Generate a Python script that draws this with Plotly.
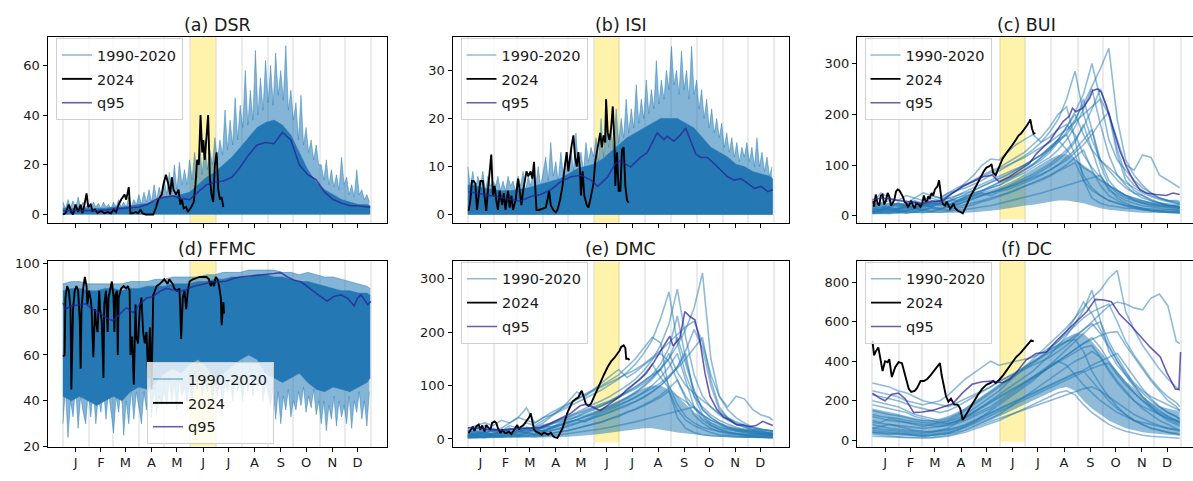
import plotly.graph_objects as go

# ---------------- calendar data ----------------
month_letters = ["J", "F", "M", "A", "M", "J", "J", "A", "S", "O", "N", "D"]
month_mid_days = [15, 45, 74, 105, 135, 166, 196, 227, 258, 288, 319, 349]
month_start_days = [0, 31, 59, 90, 120, 151, 181, 212, 243, 273, 304, 334, 365]
highlight_days = [151, 181]          # June highlighted
days3 = list(range(0, 364, 3))       # day-of-year grid for envelopes
days10 = list(range(0, 361, 10)) + [364]

# ---------------- (a) DSR ----------------
dsr_envelope = [5, 2.5, 6, 3, 5.5, 2.5, 7, 3, 5, 2.5, 4.5,
                2.5, 5, 3, 4.5, 2.5, 5, 3, 4, 2.5,
                5, 3, 6, 3, 5, 3, 7, 3, 6, 4, 8,
                4, 9, 5, 10, 5, 12, 6, 11, 7,
                14, 8, 17, 9, 20, 10, 21, 12, 18, 12, 22,
                14, 25, 15, 28, 16, 30, 18, 26, 20, 31,
                22, 30, 24, 42, 26, 38, 28, 47, 30, 44,
                35, 58, 36, 50, 38, 66, 40, 55, 42, 62, 45,
                60, 44, 65, 48, 58, 46, 68, 42, 50, 38,
                45, 30, 48, 28, 35, 25, 30, 22, 28, 20,
                20, 14, 22, 12, 18, 11, 16, 10, 23, 12,
                15, 8, 12, 7, 18, 8, 10, 6, 8, 5]
dsr_core = [2.5, 2.5, 2.5, 2.5, 2.5, 2.5, 3, 3, 3.5, 4, 4.5, 5.5, 7, 7.5, 8, 9, 12, 15, 17, 20,
            23, 27, 31, 35, 37, 38, 36, 32, 25, 18, 13, 10, 8, 6, 5, 4, 4, 3.5]
dsr_q95 = [1.5, 1.6, 1.8, 1.6, 1.5, 1.8, 2.0, 2.2, 2.5, 3.0, 4, 6, 7, 7.5, 6.5, 6, 9, 12, 13, 13.5,
           15, 19, 24, 28, 29, 28.5, 33, 30, 20, 16, 14, 9, 6, 4.5, 3.5, 3.5, 3, 3]
dsr_2024_days = [0, 3, 7, 10, 12, 15, 18, 21, 23, 25, 28, 30, 33, 35, 38, 41, 45, 49, 53, 57,
                 60, 63, 66, 69, 73, 75, 78, 80, 83, 86, 89, 92, 94, 98, 102, 107, 110, 113, 117, 119,
                 122, 125, 127, 129, 131, 134, 137, 139, 141, 143, 146, 148, 152, 155, 157, 159, 161, 163, 165, 166,
                 168, 170, 172, 174, 176, 178, 180, 182, 184, 186, 188, 190]
dsr_2024 = [0, 0.5, 4, 1, 0, 4, 1, 4, 0.5, 3, 8.5, 3, 4, 1.5, 2, 0.5, 1.5, 0.5, 1, 0.5,
            2, 1, 4, 6, 8, 6, 11, 0.5, 0.5, 1, 0.5, 2, 0.5, 0, 0, 0, 2.5, 6, 8, 12,
            16, 12, 8, 15, 10, 8, 10, 4, 6, 2.5, 3, 1, 3, 5, 12, 22, 20, 40, 25, 30,
            22, 30, 40, 15, 8, 5, 20, 25, 10, 6, 7, 3]

# ---------------- (b) ISI ----------------
isi_envelope = [10, 6, 9, 5, 8, 6, 9, 5, 8, 6, 7,
                6, 8, 5, 7, 5, 8, 6, 7, 5,
                8, 6, 9, 5, 8, 6, 9, 6, 10, 6, 9,
                12, 7, 15, 8, 11, 7, 13, 8, 12,
                10, 14, 9, 17, 10, 13, 9, 15, 11, 14, 12,
                16, 11, 20, 12, 24, 14, 18, 13, 22, 15,
                20, 16, 24, 17, 22, 18, 27, 19, 24, 20,
                28, 21, 26, 22, 32, 23, 28, 24, 30, 26, 35,
                27, 30, 25, 34, 26, 30, 24, 35, 25, 28,
                22, 26, 20, 24, 18, 22, 17, 20, 16, 19,
                14, 17, 13, 16, 12, 15, 11, 14, 12, 15,
                11, 14, 10, 16, 10, 13, 9, 12, 8, 10]
isi_core = [6.2, 6, 5.5, 5.2, 5, 5, 5.2, 5.5, 6, 6.5, 7, 7.5, 8.5, 9.5, 10, 10.5, 11.5, 13, 14.5, 16,
            17, 18, 19, 20, 20, 20, 19, 18, 16, 14, 13, 12, 10.5, 10, 9, 8.5, 8, 7.5]
isi_q95_days = [1, 11, 23, 35, 51, 63, 75, 87, 99, 111, 123, 135, 147, 155, 167, 176, 182, 194, 206, 214,
                226, 234, 238, 246, 254, 260, 266, 272, 278, 286, 294, 302, 310, 318, 326, 334, 342, 350, 358, 364]
isi_q95 = [4.8, 4.5, 4.2, 3.8, 3.2, 2.8, 3.8, 4.2, 5.2, 6.9, 7.9, 8.2, 7.2, 5.9, 7.9, 10.6, 11.2, 9.9, 11.9, 12.9,
           17, 15.6, 16.3, 15.3, 16.6, 18, 15.3, 12.6, 11.9, 11.9, 10.6, 9.2, 7.9, 7.2, 7.5, 6.5, 5.5, 5.9, 4.8, 5.2]
isi_2024_days = [1, 3, 5, 7, 9, 11, 13, 15, 18, 21, 22, 24, 26, 28, 30, 32, 34, 36, 38, 41,
                 43, 45, 48, 50, 52, 54, 57, 60, 62, 64, 66, 68, 70, 72, 75, 77, 79, 81, 82, 85,
                 89, 93, 95, 97, 99, 102, 105, 107, 110, 113, 115, 118, 120, 122, 124, 126, 128, 130, 132, 134,
                 135, 137, 139, 142, 144, 146, 148, 150, 152, 154, 156, 158, 160, 162, 164, 165, 167, 169, 171, 173,
                 175, 176, 178, 180, 182, 184, 186, 188, 190, 192]
isi_2024 = [0.8, 3, 7, 7, 6.5, 1, 4, 7, 7, 2, 0.8, 5, 9, 12.5, 4, 6, 3, 1, 5, 2,
            4.5, 1, 5, 1.5, 4, 1, 3, 7.5, 5, 2, 5, 7, 9, 8, 9, 7.5, 11, 4, 1, 1,
            1.2, 1.5, 3, 5, 2, 1, 0.5, 1, 3, 6, 9, 13, 9, 12, 14.5, 16.5, 12, 10, 13, 9,
            4, 9, 4, 2, 1.5, 3, 5, 6.5, 11, 13, 15, 17, 14, 16.5, 15, 24, 17, 15.5, 18, 22.5,
            15, 6, 13, 5, 5, 13.5, 14, 6, 3, 2.5]

# ---------------- (c) BUI ----------------
bui_years = [
    [15, 12, 18, 22, 15, 20, 25, 20, 30, 28, 35, 40, 45, 50, 55, 60, 70, 80, 90, 100,
     110, 125, 145, 165, 190, 220, 255, 290, 330, 190, 110, 80, 60, 45, 35, 30, 25, 25],
    [10, 8, 12, 10, 15, 12, 18, 25, 20, 30, 40, 45, 50, 58, 65, 72, 80, 90, 100, 110,
     120, 135, 150, 175, 205, 240, 300, 230, 150, 110, 90, 70, 55, 45, 35, 30, 28, 25],
    [20, 25, 30, 20, 25, 35, 30, 40, 35, 45, 50, 55, 62, 70, 80, 88, 98, 108, 118, 130,
     145, 165, 190, 230, 285, 200, 150, 110, 90, 70, 55, 45, 40, 30, 25, 20, 20, 18],
    [25, 45, 35, 30, 40, 35, 45, 40, 35, 45, 55, 62, 70, 78, 85, 92, 100, 108, 115, 125,
     135, 145, 158, 170, 185, 200, 215, 230, 200, 150, 100, 90, 120, 115, 80, 70, 60, 55],
    [8, 10, 8, 12, 10, 15, 12, 18, 15, 20, 25, 32, 40, 48, 55, 60, 68, 76, 85, 95,
     105, 115, 130, 150, 175, 210, 250, 180, 120, 80, 60, 45, 35, 30, 25, 20, 18, 15],
    [12, 15, 20, 25, 20, 30, 25, 35, 30, 40, 50, 60, 70, 80, 88, 95, 105, 115, 125, 140,
     155, 175, 200, 215, 150, 70, 35, 25, 20, 18, 15, 15, 12, 10, 10, 8, 8, 8],
    [5, 8, 6, 10, 8, 12, 10, 15, 12, 18, 22, 28, 35, 40, 45, 50, 56, 62, 70, 78,
     88, 98, 110, 125, 145, 180, 130, 80, 50, 40, 30, 25, 20, 18, 15, 12, 12, 10],
    [10, 12, 15, 12, 18, 15, 20, 18, 25, 22, 30, 38, 45, 50, 58, 65, 72, 80, 90, 100,
     115, 130, 150, 130, 110, 95, 85, 70, 60, 50, 40, 35, 30, 25, 22, 20, 18, 18],
    [15, 18, 12, 15, 20, 18, 15, 22, 25, 20, 28, 33, 38, 42, 46, 50, 56, 62, 68, 75,
     82, 90, 100, 110, 125, 140, 160, 185, 205, 130, 80, 60, 50, 40, 35, 30, 30, 28],
    [6, 5, 8, 6, 10, 8, 12, 10, 14, 12, 18, 22, 25, 30, 35, 40, 45, 52, 58, 65,
     70, 78, 88, 96, 105, 70, 50, 40, 30, 25, 20, 15, 12, 10, 8, 8, 6, 6],
    [18, 22, 15, 25, 20, 28, 22, 30, 25, 35, 30, 38, 42, 45, 40, 48, 52, 58, 65, 72,
     80, 90, 100, 115, 130, 150, 170, 100, 60, 45, 35, 30, 25, 22, 20, 18, 16, 15],
    [8, 12, 10, 15, 12, 18, 20, 25, 30, 40, 50, 65, 80, 100, 112, 110, 125, 140, 150, 160,
     145, 155, 170, 180, 160, 120, 95, 75, 60, 50, 40, 30, 25, 20, 18, 15, 12, 12],
    [5, 6, 5, 8, 6, 8, 10, 8, 12, 10, 15, 18, 22, 28, 32, 38, 44, 50, 58, 65,
     72, 80, 90, 100, 115, 130, 90, 60, 40, 30, 22, 18, 15, 12, 10, 8, 8, 6],
    [12, 10, 15, 12, 18, 15, 20, 25, 22, 28, 35, 42, 50, 58, 66, 74, 82, 90, 100, 110,
     120, 132, 145, 160, 185, 230, 170, 110, 70, 50, 40, 32, 28, 24, 20, 18, 16, 15],
    [20, 15, 25, 18, 22, 28, 20, 25, 30, 35, 40, 48, 55, 62, 70, 78, 85, 92, 100, 110,
     120, 135, 150, 160, 120, 80, 55, 40, 30, 25, 20, 18, 15, 14, 12, 12, 10, 10],
    [8, 10, 12, 8, 10, 14, 12, 16, 14, 18, 22, 28, 34, 40, 46, 52, 58, 66, 74, 82,
     92, 102, 115, 130, 150, 175, 210, 250, 200, 120, 70, 50, 40, 32, 26, 22, 18, 16],
    [4, 5, 4, 6, 5, 7, 6, 8, 7, 9, 10, 12, 15, 18, 20, 24, 28, 32, 36, 40,
     45, 50, 55, 60, 65, 70, 75, 80, 55, 35, 25, 18, 14, 10, 8, 6, 5, 5],
    [15, 12, 18, 14, 20, 16, 22, 18, 25, 20, 28, 35, 42, 50, 58, 66, 74, 82, 92, 102,
     115, 130, 150, 175, 200, 160, 130, 110, 95, 80, 65, 55, 45, 38, 32, 28, 25, 22],
]
bui_dense_lo = [5, 5, 5, 5, 5, 5, 5, 5, 5, 5, 5, 6, 7, 8, 10, 12, 15, 18, 20, 22,
                25, 28, 30, 30, 28, 25, 20, 15, 12, 10, 8, 7, 6, 6, 5, 5, 5, 5]
bui_dense_hi = [25, 27, 24, 26, 25, 27, 25, 28, 26, 30, 32, 37, 42, 47, 52, 57, 64, 72, 82, 92,
                102, 112, 120, 122, 112, 100, 88, 72, 60, 50, 42, 36, 31, 28, 26, 25, 24, 24]
bui_q95_days = [0, 12, 24, 36, 47, 59, 71, 83, 95, 107, 119, 131, 142, 150, 162, 174, 186, 194, 202, 210,
                218, 226, 233, 237, 241, 249, 257, 261, 267, 271, 277, 285, 293, 301, 309, 317, 324, 336, 348, 356, 364]
bui_q95 = [32, 35, 32, 29, 26, 24, 29, 29, 45, 58, 67, 77, 80, 67, 77, 90, 103, 122, 135, 147,
           167, 186, 196, 212, 205, 212, 231, 247, 250, 244, 218, 173, 128, 96, 70, 51, 45, 42, 40, 45, 42]
bui_2024_days = [1, 2, 4, 6, 8, 10, 12, 14, 16, 18, 20, 22, 24, 26, 28, 30, 32, 35, 36, 38,
                 40, 42, 44, 46, 48, 50, 52, 55, 57, 59, 61, 63, 65, 66, 68, 70, 72, 74, 77, 79,
                 81, 82, 84, 86, 88, 90, 92, 94, 96, 98, 101, 104, 107, 110, 113, 116, 120, 123, 126, 129,
                 132, 135, 139, 141, 143, 146, 148, 151, 154, 158, 162, 166, 170, 173, 176, 180, 183, 186, 187, 189,
                 191, 193]
bui_2024 = [30, 18, 42, 25, 20, 40, 42, 22, 30, 45, 38, 20, 25, 32, 48, 52, 50, 42, 38, 28,
            25, 18, 22, 30, 20, 15, 25, 22, 18, 25, 40, 28, 30, 38, 35, 45, 40, 52, 58, 70,
            45, 30, 22, 20, 28, 22, 14, 18, 24, 15, 10, 8, 5, 15, 28, 38, 50, 60, 70, 80,
            88, 95, 98, 102, 85, 80, 88, 100, 112, 122, 130, 140, 150, 158, 162, 170, 178, 186, 190, 172,
            162, 163]

# ---------------- (d) FFMC ----------------
ffmc_envelope_lo = [30, 45, 24, 40, 33, 46, 28, 42, 35, 30, 44,
                    33, 45, 30, 42, 35, 46, 32, 44, 34,
                    26, 42, 35, 46, 25, 40, 30, 45, 32, 44, 36,
                    30, 44, 36, 48, 33, 46, 35, 42, 38,
                    45, 38, 50, 40, 48, 36, 50, 42, 46, 40, 48,
                    40, 52, 45, 55, 42, 50, 44, 53, 40, 48,
                    42, 50, 38, 48, 44, 52, 40, 50, 45, 48,
                    40, 52, 44, 55, 42, 50, 46, 53, 40, 48, 44,
                    38, 46, 32, 44, 30, 42, 36, 45, 33, 40,
                    36, 44, 38, 46, 35, 42, 37, 45, 34, 40,
                    30, 40, 27, 38, 32, 42, 29, 40, 33, 38,
                    30, 42, 28, 40, 35, 44, 32, 40, 29, 44]
ffmc_envelope_hi = [91, 92, 92, 91, 91, 91, 91, 91, 92, 92, 92, 93, 93, 94, 94, 94, 94, 95, 95, 96,
                    96, 96, 97, 97, 97, 97, 96, 96, 95, 96, 95, 94, 94, 93, 92, 91, 90, 89]
ffmc_core_lo = [42, 40, 42, 40, 38, 40, 42, 40, 44, 46, 45, 48, 52, 54, 52, 56, 58, 55, 50, 52,
                55, 58, 60, 58, 52, 50, 48, 50, 52, 48, 45, 44, 46, 45, 44, 46, 48, 50]
ffmc_core_hi = [88, 89, 89, 88, 88, 89, 89, 88, 89, 89, 90, 90, 90, 91, 91, 91, 92, 92, 93, 93,
                94, 94, 94, 95, 95, 94, 94, 93, 92, 92, 91, 90, 89, 88, 88, 87, 87, 86]
ffmc_q95_days = [0, 3, 9, 19, 27, 35, 43, 51, 59, 67, 75, 83, 91, 99, 107, 115, 122, 130, 138, 146,
                 154, 162, 170, 178, 186, 194, 202, 210, 218, 226, 234, 242, 250, 258, 266, 274, 282, 289, 297, 305,
                 313, 321, 329, 337, 345, 349, 353, 357, 361, 365]
ffmc_q95 = [82.7, 79.9, 81.3, 82, 82.3, 80, 78.4, 76.3, 74.9, 77.7, 80.6, 78.4, 82, 84.8, 85.5, 87.7, 89, 88.4, 87.7, 88.4,
            89.8, 90.5, 91.2, 91.9, 91.9, 92.2, 93.3, 94, 94.3, 94.5, 94.8, 95.2, 95.5, 95.9, 94, 92.6, 91.9, 89.8, 87.7, 85.5,
            83.4, 85.5, 86.2, 84.8, 81.3, 84.8, 86.2, 84.1, 82, 83.4]
ffmc_2024_days = [0, 2, 3, 5, 7, 9, 10, 12, 14, 16, 18, 20, 21, 22, 24, 26, 28, 29, 31, 33,
                  34, 36, 38, 39, 41, 43, 44, 46, 48, 49, 51, 53, 54, 56, 58, 60, 61, 62, 64, 65,
                  66, 69, 72, 75, 77, 79, 80, 82, 83, 84, 86, 87, 89, 91, 93, 95, 97, 99, 101, 103,
                  105, 107, 109, 111, 115, 118, 120, 124, 126, 130, 132, 135, 138, 139, 140, 142, 144, 146, 148, 150,
                  154, 158, 162, 166, 170, 173, 175, 177, 179, 181, 183, 185, 187, 188, 190, 191]
ffmc_2024 = [59.3, 60, 85, 90, 88, 80, 45, 80, 88, 90, 88, 75, 54, 80, 89, 94, 90, 82, 88, 84,
             80, 59, 80, 75, 70, 88, 80, 75, 50, 82, 88, 70, 85, 88, 92, 85, 70, 86, 88, 60,
             85, 89, 90, 89, 90, 88, 60, 68, 58, 47, 82, 68, 65, 80, 85, 70, 65, 70, 50, 72,
             45, 86, 88, 90, 91, 92, 93, 91, 93, 91, 89, 88, 89, 80, 67, 85, 88, 80, 88, 92,
             93, 93.5, 94, 94, 94, 93, 90, 92, 90, 94, 93, 90, 85, 73, 83, 78]

# ---------------- (e) DMC ----------------
dmc_years = [
    [8, 10, 12, 15, 10, 18, 20, 15, 22, 20, 28, 32, 36, 40, 45, 50, 56, 62, 70, 78,
     88, 100, 115, 132, 150, 175, 205, 245, 310, 150, 80, 55, 40, 30, 22, 18, 15, 15],
    [5, 4, 8, 6, 10, 8, 12, 18, 15, 22, 30, 36, 42, 50, 58, 65, 72, 80, 90, 100,
     112, 128, 148, 175, 215, 280, 190, 120, 80, 60, 45, 35, 28, 22, 18, 15, 12, 10],
    [15, 20, 25, 15, 20, 30, 40, 58, 30, 40, 45, 52, 60, 68, 76, 84, 92, 102, 112, 125,
     140, 160, 185, 225, 275, 180, 120, 80, 60, 45, 35, 28, 22, 18, 15, 12, 10, 10],
    [20, 25, 30, 25, 35, 30, 40, 35, 30, 40, 50, 58, 66, 74, 82, 90, 98, 106, 114, 122,
     130, 140, 152, 165, 180, 195, 210, 220, 180, 120, 80, 60, 80, 75, 55, 45, 40, 35],
    [5, 6, 5, 8, 6, 10, 8, 12, 10, 15, 20, 26, 34, 42, 48, 54, 62, 70, 78, 88,
     98, 108, 120, 140, 170, 230, 150, 90, 55, 40, 30, 22, 18, 15, 12, 10, 8, 8],
    [8, 10, 15, 20, 15, 25, 20, 30, 25, 35, 45, 55, 65, 75, 84, 92, 100, 110, 120, 135,
     150, 170, 190, 180, 90, 40, 20, 12, 8, 6, 5, 5, 4, 4, 4, 3, 3, 3],
    [3, 5, 4, 6, 5, 8, 6, 10, 8, 12, 16, 20, 26, 30, 36, 42, 48, 55, 62, 70,
     78, 88, 100, 115, 135, 160, 110, 60, 35, 25, 18, 14, 10, 8, 7, 5, 5, 5],
    [6, 8, 10, 8, 12, 10, 14, 12, 18, 15, 22, 30, 38, 42, 50, 56, 62, 70, 80, 90,
     105, 120, 140, 115, 95, 80, 70, 58, 45, 35, 28, 22, 18, 15, 12, 10, 8, 8],
    [10, 12, 8, 10, 14, 12, 10, 16, 18, 14, 20, 26, 30, 36, 42, 46, 52, 58, 64, 70,
     78, 86, 95, 105, 118, 132, 150, 170, 190, 110, 60, 40, 30, 25, 20, 18, 16, 15],
    [2, 2, 4, 3, 5, 4, 6, 5, 8, 6, 10, 14, 16, 20, 24, 28, 32, 38, 42, 50,
     55, 62, 70, 78, 90, 55, 35, 25, 18, 12, 8, 6, 5, 4, 3, 3, 2, 2],
    [12, 15, 10, 18, 14, 20, 15, 22, 18, 25, 22, 28, 32, 36, 32, 40, 45, 52, 58, 64,
     70, 78, 88, 100, 115, 135, 160, 80, 45, 30, 22, 18, 15, 12, 10, 9, 8, 8],
    [5, 8, 6, 10, 8, 12, 14, 18, 22, 30, 42, 55, 70, 88, 80, 92, 105, 118, 130, 115,
     125, 138, 150, 160, 145, 110, 80, 60, 45, 35, 28, 20, 15, 12, 10, 8, 7, 7],
    [3, 4, 3, 5, 4, 6, 5, 7, 6, 8, 10, 13, 16, 20, 24, 28, 32, 38, 44, 50,
     56, 64, 72, 82, 95, 110, 75, 45, 30, 20, 14, 10, 8, 6, 5, 4, 4, 3],
    [10, 8, 12, 9, 14, 11, 16, 20, 17, 22, 28, 34, 40, 46, 52, 58, 64, 70, 78, 86,
     94, 104, 116, 130, 150, 190, 140, 90, 55, 40, 30, 24, 20, 16, 14, 12, 10, 10],
    [15, 12, 18, 13, 16, 20, 15, 18, 22, 26, 30, 36, 42, 48, 54, 60, 66, 72, 80, 88,
     96, 108, 120, 130, 100, 65, 42, 30, 22, 18, 14, 12, 10, 9, 8, 8, 7, 7],
    [5, 6, 8, 5, 7, 10, 8, 11, 9, 12, 15, 19, 24, 29, 34, 39, 44, 50, 56, 62,
     70, 78, 88, 100, 115, 135, 165, 205, 170, 100, 55, 38, 28, 22, 17, 14, 12, 10],
    [2, 3, 2, 4, 3, 5, 4, 5, 4, 6, 7, 8, 10, 12, 14, 16, 19, 22, 25, 28,
     32, 36, 40, 44, 48, 52, 56, 60, 42, 26, 18, 12, 9, 7, 5, 4, 3, 3],
    [10, 8, 12, 9, 14, 11, 15, 12, 17, 14, 20, 25, 30, 36, 42, 48, 54, 60, 68, 76,
     86, 98, 112, 130, 160, 125, 100, 85, 72, 60, 48, 40, 32, 26, 22, 18, 16, 14],
]
dmc_dense_lo = [2, 2, 2, 2, 2, 2, 2, 2, 2, 2, 2, 3, 4, 5, 6, 8, 10, 12, 14, 16,
                18, 20, 20, 18, 15, 12, 10, 8, 6, 5, 4, 3, 3, 2, 2, 2, 2, 2]
dmc_dense_hi = [18, 20, 17, 19, 18, 20, 18, 21, 19, 22, 24, 28, 33, 38, 43, 49, 56, 63, 71, 79,
                88, 95, 100, 100, 92, 80, 65, 50, 40, 32, 26, 22, 20, 19, 18, 18, 17, 17]
dmc_q95_days = [0, 15, 31, 47, 63, 79, 86, 98, 110, 122, 134, 142, 150, 158, 166, 174, 182, 190, 198, 205,
                213, 221, 229, 237, 241, 245, 253, 259, 265, 271, 277, 283, 289, 297, 305, 313, 321, 328, 336, 344,
                352, 358, 364]
dmc_q95 = [21, 20, 17, 17, 20, 20, 21, 29, 38, 47, 62, 65, 59, 53, 62, 71, 80, 93, 103, 111,
           123, 141, 162, 183, 192, 174, 189, 238, 229, 223, 183, 123, 80, 56, 41, 35, 26, 26, 23, 25,
           33, 29, 25]
dmc_2024_days = [1, 4, 6, 8, 10, 13, 15, 17, 20, 22, 25, 27, 29, 32, 34, 36, 39, 41, 44, 46,
                 49, 52, 54, 57, 59, 61, 63, 66, 68, 71, 73, 75, 77, 79, 81, 83, 86, 88, 91, 94,
                 96, 99, 102, 104, 107, 109, 113, 116, 119, 122, 125, 129, 132, 134, 136, 139, 141, 144, 147, 151,
                 155, 159, 163, 167, 171, 175, 178, 181, 183, 186, 188, 189, 191, 193]
dmc_2024 = [11, 20, 23, 15, 23, 27, 17, 25, 14, 26, 20, 17, 30, 33, 30, 20, 11, 17, 12, 11,
            14, 9, 14, 20, 26, 18, 22, 25, 30, 35, 40, 48, 30, 18, 14, 13, 10, 8, 12, 10,
            8, 12, 5, 3, 2, 8, 20, 35, 50, 60, 70, 75, 78, 85, 90, 75, 65, 62, 66, 80,
            95, 110, 122, 135, 145, 152, 158, 165, 172, 175, 170, 150, 150, 148]

# ---------------- (f) DC ----------------
dc_years = [
    [150, 140, 130, 125, 115, 105, 100, 95, 90, 95, 110, 130, 160, 190, 220, 250, 290, 330, 370, 410,
     450, 490, 530, 570, 620, 670, 720, 760, 820, 860, 650, 560, 480, 420, 360, 310, 270, 250],
    [290, 280, 270, 250, 240, 220, 200, 190, 180, 170, 190, 210, 230, 250, 270, 300, 320, 340, 360, 380,
     400, 420, 450, 480, 520, 560, 600, 640, 680, 700, 690, 670, 660, 720, 740, 680, 500, 490],
    [60, 70, 80, 70, 60, 50, 45, 40, 50, 60, 90, 115, 140, 170, 200, 230, 260, 290, 320, 350,
     390, 430, 480, 530, 590, 660, 760, 600, 450, 380, 330, 280, 240, 200, 170, 140, 120, 110],
    [100, 90, 110, 100, 90, 80, 70, 80, 90, 100, 120, 150, 180, 210, 240, 270, 300, 330, 360, 390,
     420, 460, 500, 550, 620, 700, 640, 560, 480, 400, 330, 270, 220, 180, 150, 120, 100, 90],
    [40, 35, 30, 35, 30, 25, 20, 25, 30, 35, 50, 70, 90, 120, 150, 180, 210, 240, 270, 300,
     340, 380, 420, 460, 500, 540, 580, 600, 500, 420, 350, 280, 220, 170, 130, 100, 80, 70],
    [200, 190, 180, 170, 150, 130, 120, 110, 100, 110, 130, 160, 190, 220, 250, 280, 310, 340, 370, 400,
     430, 460, 480, 500, 510, 450, 350, 280, 220, 170, 130, 100, 80, 60, 50, 40, 35, 30],
    [30, 25, 20, 18, 15, 15, 12, 15, 20, 25, 35, 50, 70, 90, 110, 130, 160, 190, 220, 250,
     280, 310, 340, 370, 400, 420, 450, 420, 360, 300, 250, 200, 160, 130, 100, 80, 60, 50],
    [80, 70, 60, 55, 50, 45, 40, 45, 50, 55, 65, 80, 100, 120, 140, 160, 180, 200, 220, 240,
     260, 280, 300, 320, 340, 350, 300, 250, 200, 160, 130, 100, 80, 60, 50, 40, 30, 25],
    [250, 240, 230, 220, 200, 190, 180, 190, 200, 230, 270, 310, 340, 370, 400, 380, 390, 400, 410, 420,
     440, 470, 500, 540, 580, 620, 650, 670, 690, 600, 500, 430, 370, 310, 260, 220, 190, 170],
    [20, 18, 15, 15, 12, 12, 10, 12, 15, 20, 30, 40, 55, 70, 85, 100, 120, 140, 160, 180,
     200, 220, 240, 250, 230, 180, 140, 110, 80, 60, 45, 35, 25, 20, 18, 15, 12, 10],
    [120, 110, 100, 95, 90, 85, 80, 75, 70, 75, 85, 100, 120, 140, 160, 190, 220, 250, 280, 310,
     340, 370, 400, 430, 460, 490, 510, 530, 545, 550, 480, 420, 360, 300, 250, 200, 170, 150],
    [180, 170, 160, 150, 140, 120, 110, 100, 90, 85, 95, 110, 130, 150, 170, 200, 230, 260, 290, 320,
     350, 380, 400, 380, 330, 280, 240, 200, 170, 140, 120, 100, 90, 80, 70, 60, 55, 50],
    [90, 85, 80, 75, 70, 65, 60, 65, 70, 80, 95, 115, 140, 165, 190, 215, 240, 265, 290, 315,
     340, 370, 400, 430, 460, 490, 520, 470, 400, 340, 290, 240, 200, 170, 140, 120, 100, 90],
    [50, 45, 40, 38, 35, 30, 28, 30, 35, 40, 50, 65, 85, 105, 125, 145, 165, 185, 205, 225,
     245, 265, 285, 305, 325, 345, 365, 380, 390, 330, 280, 240, 200, 160, 130, 110, 90, 80],
    [230, 220, 210, 200, 185, 170, 160, 150, 140, 150, 170, 195, 220, 245, 270, 295, 320, 345, 370, 395,
     420, 445, 470, 500, 530, 560, 590, 540, 470, 400, 340, 290, 250, 220, 200, 180, 160, 150],
    [130, 120, 115, 110, 100, 95, 90, 85, 80, 85, 100, 120, 145, 170, 195, 220, 245, 270, 295, 320,
     345, 370, 395, 420, 445, 470, 480, 420, 350, 290, 240, 200, 170, 150, 130, 110, 100, 90],
    [60, 55, 50, 45, 40, 38, 35, 40, 45, 50, 60, 75, 95, 115, 135, 155, 175, 195, 215, 235,
     255, 275, 295, 315, 335, 355, 380, 400, 420, 440, 380, 320, 260, 210, 170, 140, 120, 100],
    [40, 38, 35, 30, 28, 25, 22, 25, 28, 32, 40, 50, 65, 80, 95, 110, 125, 140, 155, 170,
     185, 200, 215, 230, 245, 260, 270, 250, 220, 190, 160, 130, 110, 90, 75, 60, 50, 45],
]
dc_dense_lo = [30, 28, 25, 22, 20, 18, 18, 20, 25, 30, 40, 55, 70, 85, 100, 120, 140, 160, 180, 200,
               220, 240, 260, 270, 250, 200, 160, 130, 100, 80, 60, 50, 40, 35, 30, 28, 25, 25]
dc_dense_hi = [160, 152, 142, 134, 122, 112, 104, 102, 110, 122, 140, 162, 190, 220, 250, 280, 310, 340, 370, 400,
               430, 460, 490, 520, 540, 540, 500, 450, 400, 350, 300, 262, 222, 192, 172, 160, 150, 150]
dc_q95_days = [0, 9, 15, 23, 31, 39, 49, 59, 71, 83, 95, 107, 118, 130, 142, 154, 162, 170, 182, 194,
               206, 218, 230, 242, 254, 264, 274, 283, 293, 305, 317, 329, 341, 349, 359, 363, 365]
dc_q95 = [238, 212, 200, 233, 238, 209, 140, 143, 151, 168, 184, 241, 283, 296, 299, 291, 307, 340, 406, 439,
          447, 504, 554, 603, 652, 713, 710, 701, 636, 586, 529, 471, 422, 340, 258, 258, 447]
dc_2024_days = [0, 2, 4, 7, 10, 12, 15, 18, 20, 23, 27, 31, 35, 39, 43, 46, 50, 53, 57, 61,
                65, 69, 73, 77, 80, 82, 85, 87, 90, 93, 97, 101, 104, 107, 111, 115, 120, 125, 130, 135,
                140, 143, 146, 150, 155, 160, 165, 170, 175, 180, 184, 188, 191]
dc_2024 = [504, 430, 450, 470, 400, 350, 400, 395, 410, 320, 370, 395, 390, 330, 260, 245, 250, 265, 300, 300,
           310, 330, 350, 370, 390, 330, 260, 225, 195, 210, 180, 180, 160, 102, 130, 160, 200, 230, 260, 280,
           290, 300, 290, 305, 330, 360, 390, 420, 440, 465, 485, 505, 500]

# ---------------- styling ----------------
W, H = 1193, 481
FONT = "DejaVu Sans"
TXT = "#1a1a1a"
YEAR = "rgba(31,119,180,0.5)"
FRINGE = "rgba(31,119,180,0.55)"
CORE = "rgb(36,121,181)"
DENSE = "rgba(31,119,180,0.5)"
Q95 = "rgba(45,30,150,0.72)"
SPAN = "rgba(255,215,0,0.33)"
GRID = "rgba(0,0,0,0.08)"

col_px = [(47.5, 386.5), (452.5, 789.0), (857.0, 1193.0)]
col_nominal_right = [386.5, 789.0, 1196.0]
row_px = [(33, 224), (263, 454)]
x_ranges = [[-18.25, 383.25], [-18.25, 383.25], [-18.25, 379.7]]
title_y = [21, 251]

panels = [
    dict(title="(a) DSR", kind="noisy", env=dsr_envelope, core=dsr_core,
         q_days=days10, q=dsr_q95, d24=dsr_2024_days, v24=dsr_2024,
         yrange=[-3.4, 71.4], yticks=[0, 20, 40, 60], span_lo=None, leg=(56, 34)),
    dict(title="(b) ISI", kind="noisy", env=isi_envelope, core=isi_core,
         q_days=isi_q95_days, q=isi_q95, d24=isi_2024_days, v24=isi_2024,
         yrange=[-1.7, 36.9], yticks=[0, 10, 20, 30], span_lo=None, leg=(460.5, 34)),
    dict(title="(c) BUI", kind="smooth", years=bui_years, lo=bui_dense_lo, hi=bui_dense_hi,
         q_days=bui_q95_days, q=bui_q95, d24=bui_2024_days, v24=bui_2024,
         yrange=[-14, 352], yticks=[0, 100, 200, 300], span_lo=-6.4, leg=(864.5, 34)),
    dict(title="(d) FFMC", kind="ffmc",
         q_days=ffmc_q95_days, q=ffmc_q95, d24=ffmc_2024_days, v24=ffmc_2024,
         yrange=[20, 101], yticks=[20, 40, 60, 80, 100], span_lo=None, leg=(147, 367)),
    dict(title="(e) DMC", kind="smooth", years=dmc_years, lo=dmc_dense_lo, hi=dmc_dense_hi,
         q_days=dmc_q95_days, q=dmc_q95, d24=dmc_2024_days, v24=dmc_2024,
         yrange=[-14.5, 333], yticks=[0, 100, 200, 300], span_lo=-6, leg=(461, 264)),
    dict(title="(f) DC", kind="smooth", years=dc_years, lo=dc_dense_lo, hi=dc_dense_hi,
         q_days=dc_q95_days, q=dc_q95, d24=dc_2024_days, v24=dc_2024,
         yrange=[-33, 908], yticks=[0, 200, 400, 600, 800], span_lo=-8.2, leg=(865, 264)),
]

fig = go.Figure()
layout = dict(
    width=W, height=H, margin=dict(l=0, r=0, t=0, b=0),
    paper_bgcolor="white", plot_bgcolor="white",
    font=dict(family=FONT, size=13, color=TXT),
    showlegend=True, annotations=[],
)

for i, p in enumerate(panels):
    n = i + 1
    r, c = divmod(i, 3)
    xa = "x" if n == 1 else f"x{n}"
    ya = "y" if n == 1 else f"y{n}"
    lg = "legend" if n == 1 else f"legend{n}"

    def add(**kw):
        kw.setdefault("showlegend", False)
        fig.add_trace(go.Scatter(xaxis=xa, yaxis=ya, legend=lg, hoverinfo="skip", **kw))

    # highlighted June band (drawn underneath the data)
    y_lo = p["yrange"][0] if p["span_lo"] is None else p["span_lo"]
    y_hi = p["yrange"][1]
    s0, s1 = highlight_days
    add(x=[s0, s1, s1, s0, s0], y=[y_lo, y_lo, y_hi, y_hi, y_lo], mode="lines",
        line=dict(width=0), fill="toself", fillcolor=SPAN)

    if p["kind"] == "noisy":
        add(x=[None], y=[None], mode="lines", line=dict(color=YEAR, width=1.6),
            name="1990-2020", legendgroup=f"{n}a", showlegend=True)
        add(x=days3, y=p["env"], mode="lines", line=dict(color=FRINGE, width=0.8),
            fill="tozeroy", fillcolor=FRINGE)
        add(x=days10, y=p["core"], mode="lines", line=dict(color=CORE, width=0.5),
            fill="tozeroy", fillcolor=CORE)
    elif p["kind"] == "ffmc":
        add(x=[None], y=[None], mode="lines", line=dict(color=YEAR, width=1.6),
            name="1990-2020", legendgroup=f"{n}a", showlegend=True)
        add(x=days3, y=ffmc_envelope_lo, mode="lines", line=dict(color=FRINGE, width=0.8))
        add(x=days10, y=ffmc_envelope_hi, mode="lines", line=dict(color=FRINGE, width=0.8),
            fill="tonexty", fillcolor=FRINGE)
        add(x=days10, y=ffmc_core_lo, mode="lines", line=dict(color=CORE, width=0.5))
        add(x=days10, y=ffmc_core_hi, mode="lines", line=dict(color=CORE, width=0.5),
            fill="tonexty", fillcolor=CORE)
    else:
        add(x=days10, y=p["lo"], mode="lines", line=dict(width=0))
        add(x=days10, y=p["hi"], mode="lines", line=dict(width=0),
            fill="tonexty", fillcolor=DENSE)
        for j, yv in enumerate(p["years"]):
            if j == 0:
                add(x=days10, y=yv, mode="lines", line=dict(color=YEAR, width=1.6),
                    name="1990-2020", legendgroup=f"{n}a", showlegend=True)
            else:
                add(x=days10, y=yv, mode="lines", line=dict(color=YEAR, width=1.6))

    add(x=p["d24"], y=p["v24"], mode="lines", line=dict(color="black", width=1.9),
        name="2024", legendgroup=f"{n}b", showlegend=True)
    add(x=p["q_days"], y=p["q"], mode="lines", line=dict(color=Q95, width=1.6),
        name="q95", legendgroup=f"{n}c", showlegend=True)

    # axes
    x0, x1 = col_px[c]
    y0, y1 = row_px[r]
    xname = "xaxis" if n == 1 else f"xaxis{n}"
    yname = "yaxis" if n == 1 else f"yaxis{n}"
    layout[xname] = dict(
        domain=[x0 / W, x1 / W], range=x_ranges[c], anchor=ya,
        showgrid=False, zeroline=False, showline=True, linecolor="black", linewidth=1,
        mirror=True, ticks="outside", ticklen=4, tickwidth=1, tickcolor="black",
        tickmode="array", tickvals=month_mid_days, ticktext=month_letters,
        showticklabels=(r == 1), tickfont=dict(size=13, color=TXT),
        minor=dict(tickmode="array", tickvals=month_start_days, showgrid=True,
                   gridcolor=GRID, gridwidth=2, ticks=""),
    )
    layout[yname] = dict(
        domain=[1 - y1 / H, 1 - y0 / H], range=p["yrange"], anchor=xa,
        showgrid=False, zeroline=False, showline=True, linecolor="black", linewidth=1,
        mirror=(c < 2), ticks="outside", ticklen=4, tickwidth=1, tickcolor="black",
        tickmode="array", tickvals=p["yticks"], tickfont=dict(size=13, color=TXT),
    )
    lx, ly = p["leg"]
    layout[lg] = dict(
        x=lx / W, y=1 - ly / H, xanchor="left", yanchor="top",
        bgcolor="rgba(255,255,255,0.8)", bordercolor="#d0d0d0", borderwidth=1,
        font=dict(family=FONT, size=14.5, color=TXT),
        traceorder="grouped", tracegroupgap=2, itemwidth=30,
    )
    layout["annotations"].append(dict(
        text=p["title"], x=(x0 + col_nominal_right[c]) / 2 / W, y=1 - title_y[r] / H,
        xref="paper", yref="paper", xanchor="center", yanchor="middle",
        showarrow=False, font=dict(family=FONT, size=17.5, color=TXT),
    ))

fig.update_layout(**layout)
fig.write_html("out.html")
